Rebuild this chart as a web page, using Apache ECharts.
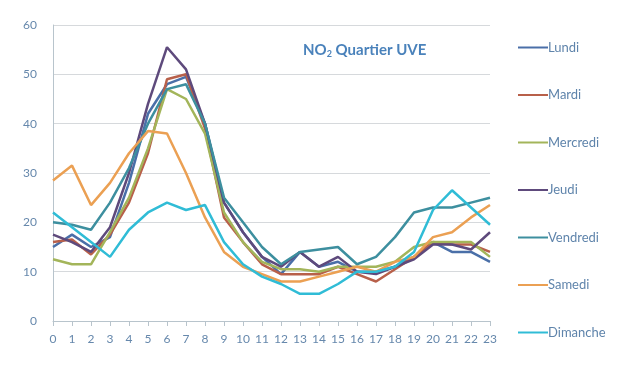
<!DOCTYPE html>
<html><head><meta charset="utf-8">
<script src="https://cdn.jsdelivr.net/npm/echarts@6/dist/echarts.min.js"></script>
<style>html,body{margin:0;padding:0;background:#fff}#c{width:624px;height:378px}</style>
</head><body><div id="c"></div>
<script>
const hours = ['0','1','2','3','4','5','6','7','8','9','10','11','12','13','14','15','16','17','18','19','20','21','22','23'];
const yTicks = [0,10,20,30,40,50,60];
const lundi    = [15,17.5,15,17,28,42,48,49.5,40,24,18,13,9.5,14,11,12,10,10,11,13,16,14,14,12];
const mardi    = [16,16.5,13.5,17.5,24,34,49,50,39,21,16,11.5,9.5,9.5,9.5,11,9.5,8,10.5,13,16,15.5,15.5,14];
const mercredi = [12.5,11.5,11.5,18,25,35,47,45,38,22,16,12,10.5,10.5,10,11,11,11,12,15,16,16,16,13];
const jeudi    = [17.5,16,14,19,30,44,55.5,51,40,24,18,13,11,14,11,13,10,9.5,11,12.5,15.5,15.5,14.5,18];
const vendredi = [20,19.5,18.5,24,31,40,47,48,40,25,20,15,11.5,14,14.5,15,11.5,13,17,22,23,23,24,25];
const samedi   = [28.5,31.5,23.5,28,34,38.5,38,30,21,14,11,9.5,8,8,9,10,11,10,12,13,17,18,21,23.5];
const dimanche = [22,19,16,13,18.5,22,24,22.5,23.5,16,11.5,9,7.5,5.5,5.5,7.5,10,10,11,14,22.5,26.5,23,19.5];
const names = ['Lundi','Mardi','Mercredi','Jeudi','Vendredi','Samedi','Dimanche'];
const values = [lundi,mardi,mercredi,jeudi,vendredi,samedi,dimanche];
const colors = ['#4a6fa8','#b8604a','#a3b55a','#5e4a7c','#3d8f9f','#eba053','#30bcd6'];

const chart = echarts.init(document.getElementById('c'));
chart.setOption({
  animation:false,
  color: colors,
  textStyle:{fontFamily:'Lato'},
  title:{
    text:'{a|NO}{s|2}{a| Quartier UVE}',
    left:298, top:36,
    textStyle:{rich:{
      a:{fontFamily:'Lato',fontWeight:'bold',fontSize:15,color:'#4a82bb'},
      s:{fontFamily:'Lato',fontWeight:'bold',fontSize:9,color:'#4a82bb',verticalAlign:'bottom',padding:[9,0,0,0]}
    }}
  },
  legend:{
    orient:'vertical', left:513, top:36,
    itemWidth:30, itemHeight:14, itemGap:34.5,
    icon:'path://M0,6 L30,6 L30,8 L0,8 Z',
    textStyle:{color:'#5f84ab',fontSize:13,fontFamily:'Lato',padding:[0,0,0,-5]},
    data:names
  },
  grid:{left:53,right:134,top:25,bottom:57},
  xAxis:{
    type:'category', data:hours, boundaryGap:false,
    axisLine:{lineStyle:{color:'#b8c4cc'}},
    axisTick:{show:true,lineStyle:{color:'#b8c4cc'}},
    axisLabel:{color:'#6688ac',fontSize:12,margin:12,interval:0}
  },
  yAxis:{
    type:'value', min:yTicks[0], max:yTicks[yTicks.length-1], interval:10,
    axisLine:{show:true,lineStyle:{color:'#b8c4cc'}},
    axisTick:{show:false},
    axisLabel:{color:'#6688ac',fontSize:12,margin:16},
    splitLine:{lineStyle:{color:'#d6d9dc'}}
  },
  series: names.map((n,i)=>({
    name:n, type:'line', data:values[i], showSymbol:false, symbol:'none',
    lineStyle:{width:2.5,color:colors[i]}
  }))
});
</script></body></html>
